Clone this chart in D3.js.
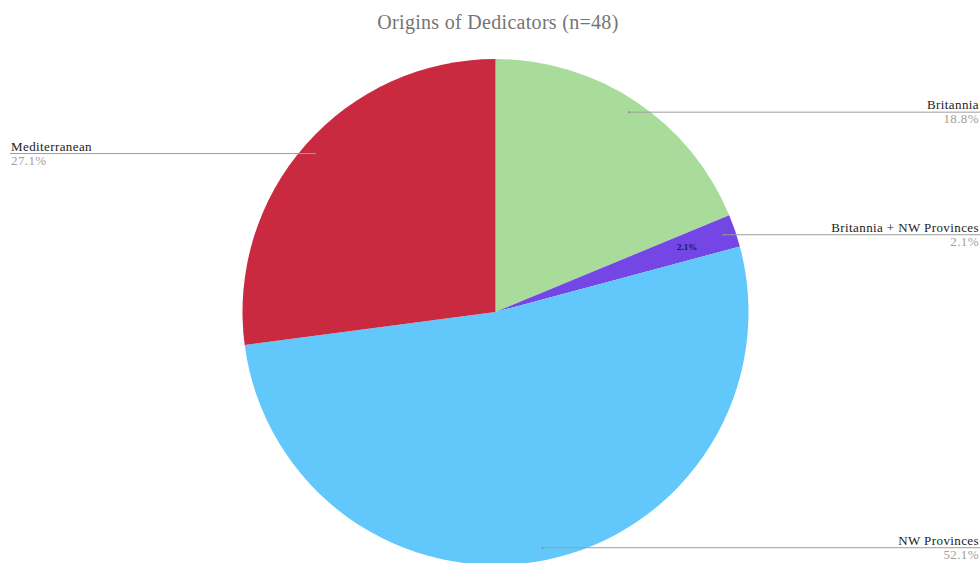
<!DOCTYPE html>
<html>
<head>
<meta charset="utf-8">
<script src="https://cdn.jsdelivr.net/npm/d3@7"></script>
<style>
  html, body { margin: 0; padding: 0; background: #fff; }
  svg { display: block; }
  text { font-family: "Liberation Serif", "Times New Roman", serif; }
</style>
</head>
<body>
<svg id="chart" width="980" height="563"></svg>
<script>
// Origins of dedicators, counts out of 48
const categories = ["Britannia", "Britannia + NW Provinces", "NW Provinces", "Mediterranean"];
const counts = [9, 1, 25, 13];
const sliceColors = ["#a9dc9b", "#7446e6", "#62c7fa", "#c92a40"];
const titleText = "Origins of Dedicators (n=48)";

const width = 980, height = 563;
const cx = 495.5, cy = 312, radius = 253;
const total = d3.sum(counts);
const pctFmt = v => (v / total * 100).toFixed(1) + "%";

const svg = d3.select("#chart");

svg.append("text")
  .attr("x", 498)
  .attr("y", 29)
  .attr("text-anchor", "middle")
  .attr("font-size", 20)
  .attr("letter-spacing", 0.3)
  .attr("fill", "#757575")
  .text(titleText);

const data = categories.map((c, i) => ({ name: c, value: counts[i], color: sliceColors[i] }));

const pie = d3.pie().sort(null).value(d => d.value);
const arcs = pie(data);
const arc = d3.arc().innerRadius(0).outerRadius(radius);

const g = svg.append("g").attr("transform", `translate(${cx},${cy})`);

g.selectAll("path.slice")
  .data(arcs)
  .join("path")
  .attr("class", "slice")
  .attr("d", arc)
  .attr("fill", d => d.data.color);

// Value label inside the small slice
const innerArc = d3.arc().innerRadius(radius * 0.8).outerRadius(radius * 0.8);
g.selectAll("text.inner")
  .data(arcs.filter(d => d.data.name === "Britannia + NW Provinces"))
  .join("text")
  .attr("class", "inner")
  .attr("transform", d => `translate(${innerArc.centroid(d)})`)
  .attr("text-anchor", "middle")
  .attr("dy", "0.35em")
  .attr("font-size", 9)
  .attr("font-weight", "bold")
  .attr("fill", "#1a1a4a")
  .text(d => pctFmt(d.data.value));

// Leader lines and outside labels
const anchorArc = d3.arc().innerRadius(radius * 0.95).outerRadius(radius * 0.95);
arcs.forEach(d => {
  const [px, py] = anchorArc.centroid(d);
  const mid = (d.startAngle + d.endAngle) / 2;
  const right = mid < Math.PI;
  const ax = cx + px, ay = cy + py;
  const ex = right ? width : 10;

  svg.append("line")
    .attr("x1", ax).attr("y1", ay)
    .attr("x2", ex).attr("y2", ay)
    .attr("stroke", "#9e9e9e")
    .attr("stroke-width", 1);

  svg.append("circle")
    .attr("cx", ax).attr("cy", ay).attr("r", 1)
    .attr("fill", "#888");

  const tx = right ? width - 1 : 11;
  const anchor = right ? "end" : "start";

  svg.append("text")
    .attr("x", tx).attr("y", ay - 3)
    .attr("text-anchor", anchor)
    .attr("font-size", 13)
    .attr("letter-spacing", 0.4)
    .attr("fill", "#222")
    .text(d.data.name);

  svg.append("text")
    .attr("x", tx).attr("y", ay + 11)
    .attr("text-anchor", anchor)
    .attr("font-size", 13)
    .attr("letter-spacing", 0.4)
    .attr("fill", "#a0a0a0")
    .text(pctFmt(d.data.value));
});
</script>
</body>
</html>
